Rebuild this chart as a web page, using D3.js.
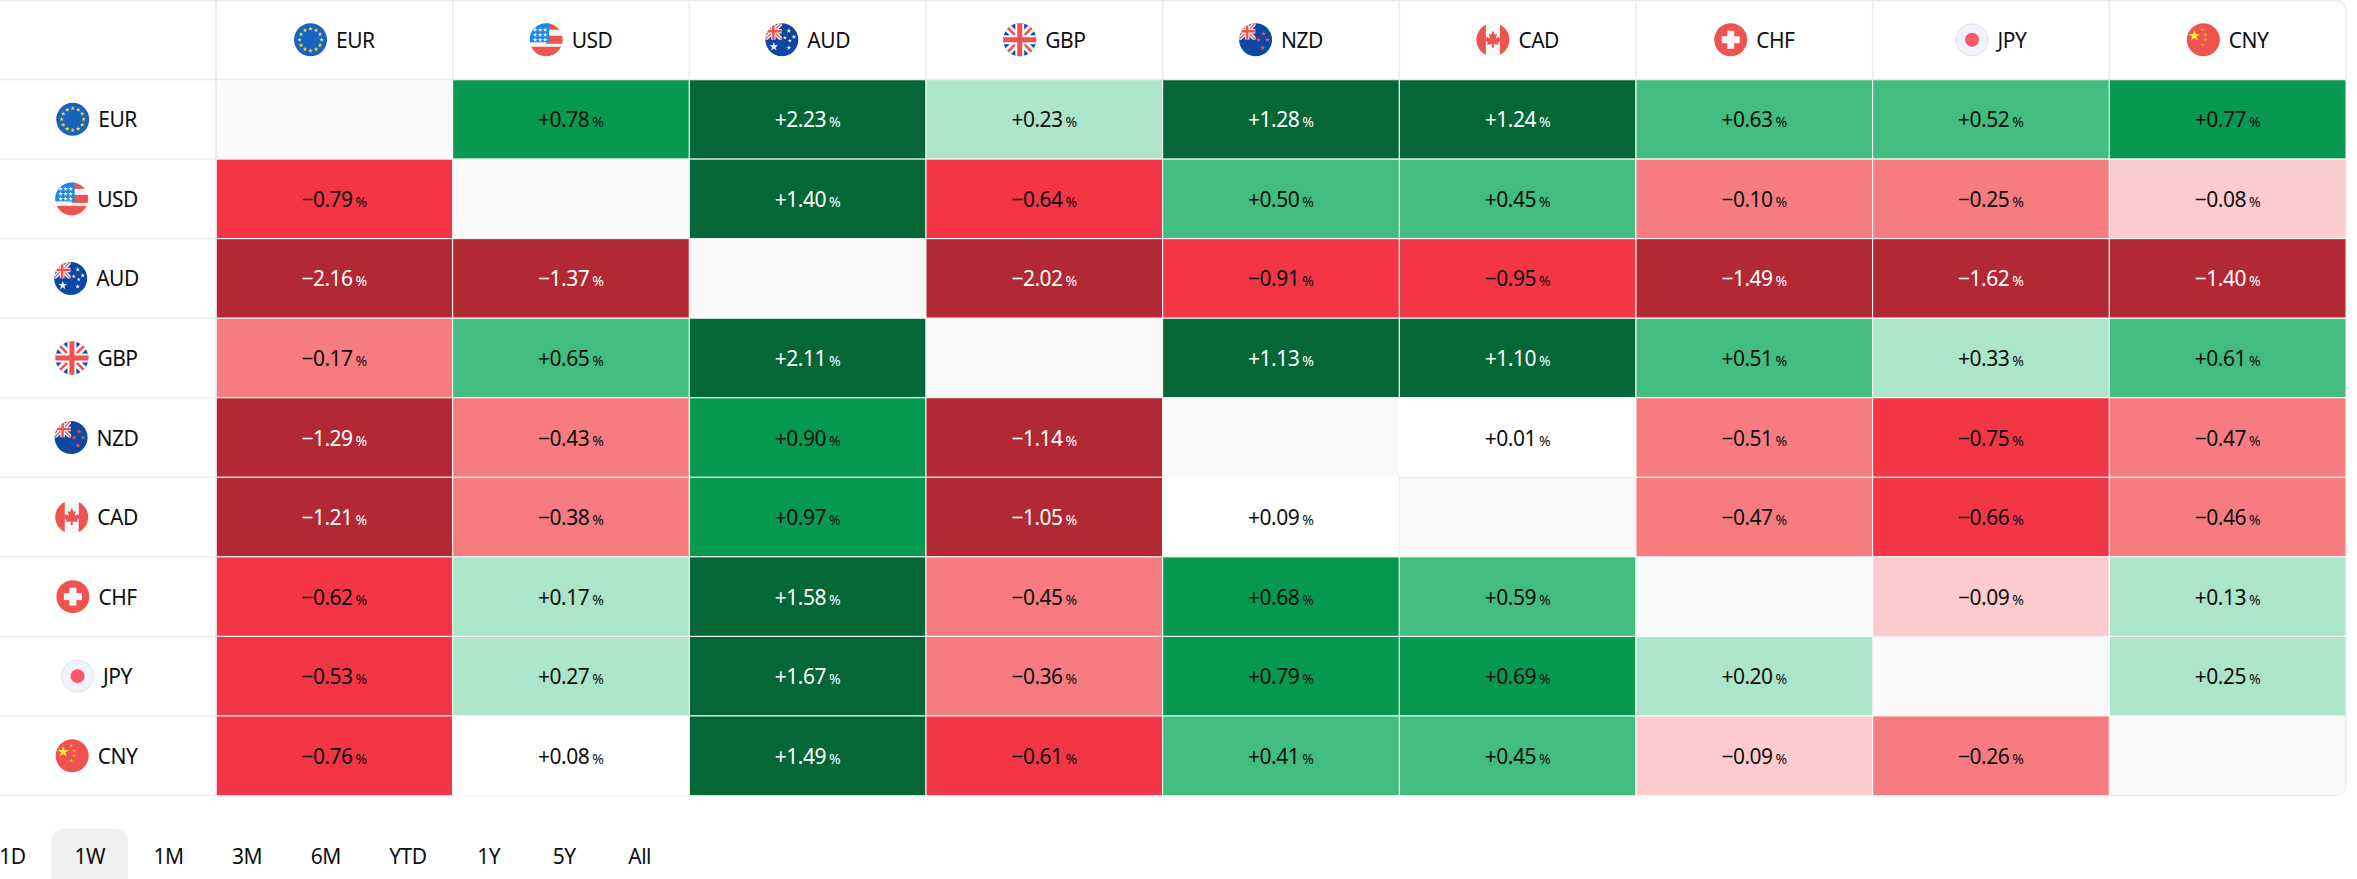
<!DOCTYPE html>
<html>
<head>
<meta charset="utf-8">
<title>Forex cross rates</title>
<script src="https://cdn.jsdelivr.net/npm/d3@7/dist/d3.min.js"></script>
<style>
    html, body {margin:0; padding:0; background:#fff; overflow:hidden;}
    svg {display:block; font-family:"Noto Sans",sans-serif;}
</style>
</head>
<body>
<svg id="heatmap" width="2357" height="879"></svg>
<script>
const currencies = ["EUR", "USD", "AUD", "GBP", "NZD", "CAD", "CHF", "JPY", "CNY"];
const rowEUR = [null, 0.78, 2.23, 0.23, 1.28, 1.24, 0.63, 0.52, 0.77];
const rowUSD = [-0.79, null, 1.40, -0.64, 0.50, 0.45, -0.10, -0.25, -0.08];
const rowAUD = [-2.16, -1.37, null, -2.02, -0.91, -0.95, -1.49, -1.62, -1.40];
const rowGBP = [-0.17, 0.65, 2.11, null, 1.13, 1.10, 0.51, 0.33, 0.61];
const rowNZD = [-1.29, -0.43, 0.90, -1.14, null, 0.01, -0.51, -0.75, -0.47];
const rowCAD = [-1.21, -0.38, 0.97, -1.05, 0.09, null, -0.47, -0.66, -0.46];
const rowCHF = [-0.62, 0.17, 1.58, -0.45, 0.68, 0.59, null, -0.09, 0.13];
const rowJPY = [-0.53, 0.27, 1.67, -0.36, 0.79, 0.69, 0.20, null, 0.25];
const rowCNY = [-0.76, 0.08, 1.49, -0.61, 0.41, 0.45, -0.09, -0.26, null];
const rows = [rowEUR, rowUSD, rowAUD, rowGBP, rowNZD, rowCAD, rowCHF, rowJPY, rowCNY];
const periods = ["1D", "1W", "1M", "3M", "6M", "YTD", "1Y", "5Y", "All"];
const activePeriod = "1W";

const colorBreaks = [-1, -0.52, -0.095, 0, 0.1, 0.4, 0.66, 1];
const colorSteps = ["#b22833", "#f23645", "#f77c80", "#fccbcd", "#ffffff", "#ace5c9", "#42bd7f", "#089950", "#056636"];
const emptyColor = "#f9f9f9";
const gridColor = "#ebebeb";
const textColor = "#0f0f0f";

const tableLeft = 216, tableRight = 2346, tableBottom = 795.5;
const rowLabelCenter = 96.5;
const flagRadius = 16.5;
const labelSize = 21, labelSpacing = -0.5;

const svg = d3.select("#heatmap");
const x = d3.scaleBand().domain(currencies).range([tableLeft, tableRight]);
const y = d3.scaleBand().domain(["header"].concat(currencies)).range([0, tableBottom]);
const color = d3.scaleThreshold().domain(colorBreaks).range(colorSteps);
const isDark = (v) => v <= -1 || v >= 1;

// outer frame, square on the left because the table is cut by the window
svg.append("path")
    .attr("fill", "#fff")
    .attr("stroke", gridColor)
    .attr("stroke-width", 1.5)
    .attr("d", `M-5,0.5H${tableRight - 12}Q${tableRight},0.5 ${tableRight},12.5V${tableBottom - 12}Q${tableRight},${tableBottom} ${tableRight - 12},${tableBottom}H-5`);

// cells
const cells = [];
rows.forEach((row, i) => row.forEach((v, j) => cells.push({row: currencies[i], col: currencies[j], v: v})));

svg.append("defs").append("clipPath").attr("id", "frame-clip").append("path")
    .attr("d", `M0,0H${tableRight - 12}Q${tableRight},0 ${tableRight},12V${tableBottom - 12}Q${tableRight},${tableBottom} ${tableRight - 12},${tableBottom}H0Z`);

svg.append("g").attr("clip-path", "url(#frame-clip)")
    .selectAll("rect").data(cells).join("rect")
    .attr("x", d => x(d.col))
    .attr("y", d => y(d.row))
    .attr("width", x.bandwidth())
    .attr("height", y.bandwidth())
    .attr("fill", d => d.v === null ? emptyColor : color(d.v))
    .attr("stroke", d => d.v === null ? gridColor : "#fff")
    .attr("stroke-width", 1);

// grid lines of the header row and the label column
const gridLines = svg.append("g").attr("stroke", gridColor).attr("stroke-width", 1.5);
y.domain().slice(1).forEach(d => {
    gridLines.append("line").attr("x1", 0).attr("x2", tableLeft).attr("y1", y(d)).attr("y2", y(d));
});
gridLines.append("line").attr("x1", tableLeft).attr("x2", tableRight).attr("y1", y("EUR")).attr("y2", y("EUR"));
x.domain().forEach(d => {
    gridLines.append("line").attr("x1", x(d)).attr("x2", x(d)).attr("y1", 0).attr("y2", y("EUR"));
});
gridLines.append("line").attr("x1", tableLeft).attr("x2", tableLeft).attr("y1", 0).attr("y2", tableBottom);

// cell values
const valueText = svg.append("g").selectAll("text")
    .data(cells.filter(d => d.v !== null)).join("text")
    .attr("x", d => x(d.col) + x.bandwidth() / 2)
    .attr("y", d => y(d.row) + y.bandwidth() / 2 + 8)
    .attr("text-anchor", "middle")
    .attr("font-size", labelSize)
    .attr("letter-spacing", labelSpacing)
    .attr("fill", d => isDark(d.v) ? "#fff" : textColor);
valueText.append("tspan")
    .text(d => (d.v > 0 ? "+" : "\u2212") + Math.abs(d.v).toFixed(2));
valueText.append("tspan")
    .attr("dx", 3)
    .attr("font-size", 14)
    .attr("letter-spacing", 0)
    .text("%");

// flags are small pictures, drawn in a box centred on 0,0
const star = (size) => d3.symbol().type(d3.symbolStar).size(size)();
const addStar = (g, px, py, size, fill) => g.append("path")
    .attr("d", star(size))
    .attr("transform", `translate(${px},${py})`)
    .attr("fill", fill);
const addRect = (g, rx, ry, w, h, fill) => g.append("rect")
    .attr("x", rx).attr("y", ry).attr("width", w).attr("height", h).attr("fill", fill);
const addUnion = (g, corner) => {
    // union jack, used whole for GBP and in the corner for AUD and NZD
    const u = corner ? g.append("g").attr("clip-path", "url(#canton-clip)") : g.append("g");
    const inner = u.append("g").attr("transform", corner ? "translate(-8.5,-8.5) scale(0.5)" : null);
    inner.append("path").attr("d", "M-17,-17L17,17M17,-17L-17,17").attr("stroke", "#f5f7fb").attr("stroke-width", 8);
    inner.append("path").attr("d", "M-17,-17L17,17M17,-17L-17,17").attr("stroke", "#ef5350").attr("stroke-width", 2.5);
    inner.append("path").attr("d", "M0,-17V17M-17,0H17").attr("stroke", "#f5f7fb").attr("stroke-width", 9);
    inner.append("path").attr("d", "M0,-17V17M-17,0H17").attr("stroke", "#ef5350").attr("stroke-width", 5);
};

const flagDrawers = {
    EUR: (g) => {
        addRect(g, -17, -17, 34, 34, "#1565c0");
        d3.range(12).forEach(i => {
            const a = i / 12 * 2 * Math.PI;
            addStar(g, 11 * Math.sin(a), -11 * Math.cos(a), 7, "#fdd835");
        });
    },
    USD: (g) => {
        addRect(g, -17, -17, 34, 34, "#f5f7fb");
        addRect(g, 0, -17, 17, 7, "#ef5350");
        addRect(g, 0, -4, 17, 8, "#ef5350");
        addRect(g, -17, 7, 34, 10, "#ef5350");
        addRect(g, -17, -17, 20, 19.5, "#1e88e5");
        [-11, -6, -1].forEach(px => [-10, -5, 0].forEach(py => addStar(g, px, py, 7, "#f5f7fb")));
    },
    AUD: (g) => {
        addRect(g, -17, -17, 34, 34, "#0d47a1");
        addUnion(g, true);
        addStar(g, 7, -9, 7, "#f5f7fb");
        addStar(g, 12, -3, 7, "#f5f7fb");
        addStar(g, 3, -2, 5, "#f5f7fb");
        addStar(g, 8, 1, 5, "#f5f7fb");
        addStar(g, 7, 8, 7, "#f5f7fb");
        addStar(g, -8, 7, 24, "#f5f7fb");
    },
    GBP: (g) => {
        addRect(g, -17, -17, 34, 34, "#0d47a1");
        addUnion(g, false);
    },
    NZD: (g) => {
        addRect(g, -17, -17, 34, 34, "#0d47a1");
        addUnion(g, true);
        addStar(g, 8, -6, 9, "#ef5350");
        addStar(g, 3, 0, 9, "#ef5350");
        addStar(g, 12, 0, 9, "#ef5350");
        addStar(g, 7, 8, 9, "#ef5350");
    },
    CAD: (g) => {
        addRect(g, -17, -17, 34, 34, "#f5f7fb");
        addRect(g, -17, -17, 10, 34, "#ef5350");
        addRect(g, 7, -17, 10, 34, "#ef5350");
        g.append("path").attr("fill", "#ef5350")
            .attr("d", "M0,-9L2,-5L4,-6L3,-1L6,-3L7,-1L9,0L5,3L6,5L1,4.5L1,8H-1L-1,4.5L-6,5L-5,3L-9,0L-7,-1L-6,-3L-3,-1L-4,-6L-2,-5Z");
    },
    CHF: (g) => {
        addRect(g, -17, -17, 34, 34, "#ef5350");
        addRect(g, -9, -3.5, 18, 7, "#f5f7fb");
        addRect(g, -3.5, -9, 7, 18, "#f5f7fb");
    },
    JPY: (g) => {
        addRect(g, -17, -17, 34, 34, "#f0f3fa");
        g.append("circle").attr("r", 7).attr("fill", "#f9566a");
    },
    CNY: (g) => {
        addRect(g, -17, -17, 34, 34, "#ef5350");
        addStar(g, -9, -4, 40, "#ffeb3b");
        [[-1, -10], [2, -5], [2, 0], [-1, 5]].forEach(p => addStar(g, p[0], p[1], 5, "#fbc02d"));
    }
};

const defs = svg.select("defs");
defs.append("clipPath").attr("id", "flag-clip").append("circle").attr("r", flagRadius);
defs.append("clipPath").attr("id", "canton-clip").append("rect")
    .attr("x", -17).attr("y", -17).attr("width", 17).attr("height", 17);

const drawFlag = (parent, code, cx, cy) => {
    const g = parent.append("g").attr("transform", `translate(${cx},${cy})`);
    const inner = g.append("g").attr("clip-path", "url(#flag-clip)");
    flagDrawers[code](inner);
    if (code === "JPY") {
        g.append("circle").attr("r", flagRadius - 0.5).attr("fill", "none").attr("stroke", "#e0e3eb").attr("stroke-width", 1);
    }
};

// flag + code, centred as a group
const drawLabel = (code, centerX, centerY) => {
    const gap = 9;
    const label = svg.append("text")
        .attr("y", centerY + 8)
        .attr("font-size", labelSize)
        .attr("letter-spacing", labelSpacing)
        .attr("fill", textColor)
        .text(code);
    const textW = label.node().getComputedTextLength();
    const left = centerX - (flagRadius * 2 + gap + textW) / 2;
    label.attr("x", left + flagRadius * 2 + gap);
    drawFlag(svg, code, left + flagRadius, centerY);
};

currencies.forEach(code => {
    drawLabel(code, x(code) + x.bandwidth() / 2, y("header") + y.bandwidth() / 2);
    drawLabel(code, rowLabelCenter, y(code) + y.bandwidth() / 2);
});

// period buttons under the table
const bar = svg.append("g");
const padX = 23, padGap = 2.5, minButton = 73, barTop = 829, barHeight = 60;
let cursor = -24;
periods.forEach(p => {
    const label = bar.append("text")
        .attr("y", barTop + 35)
        .attr("font-size", labelSize)
        .attr("letter-spacing", labelSpacing)
        .attr("text-anchor", "middle")
        .attr("fill", textColor)
        .text(p);
    const w = Math.max(label.node().getComputedTextLength() + padX * 2, minButton);
    label.attr("x", cursor + w / 2);
    if (p === activePeriod) {
        bar.insert("rect", "text")
            .attr("x", cursor).attr("y", barTop)
            .attr("width", w).attr("height", barHeight)
            .attr("rx", 12)
            .attr("fill", "#f0f0f0");
    }
    cursor += w + padGap;
});
</script>
</body>
</html>
